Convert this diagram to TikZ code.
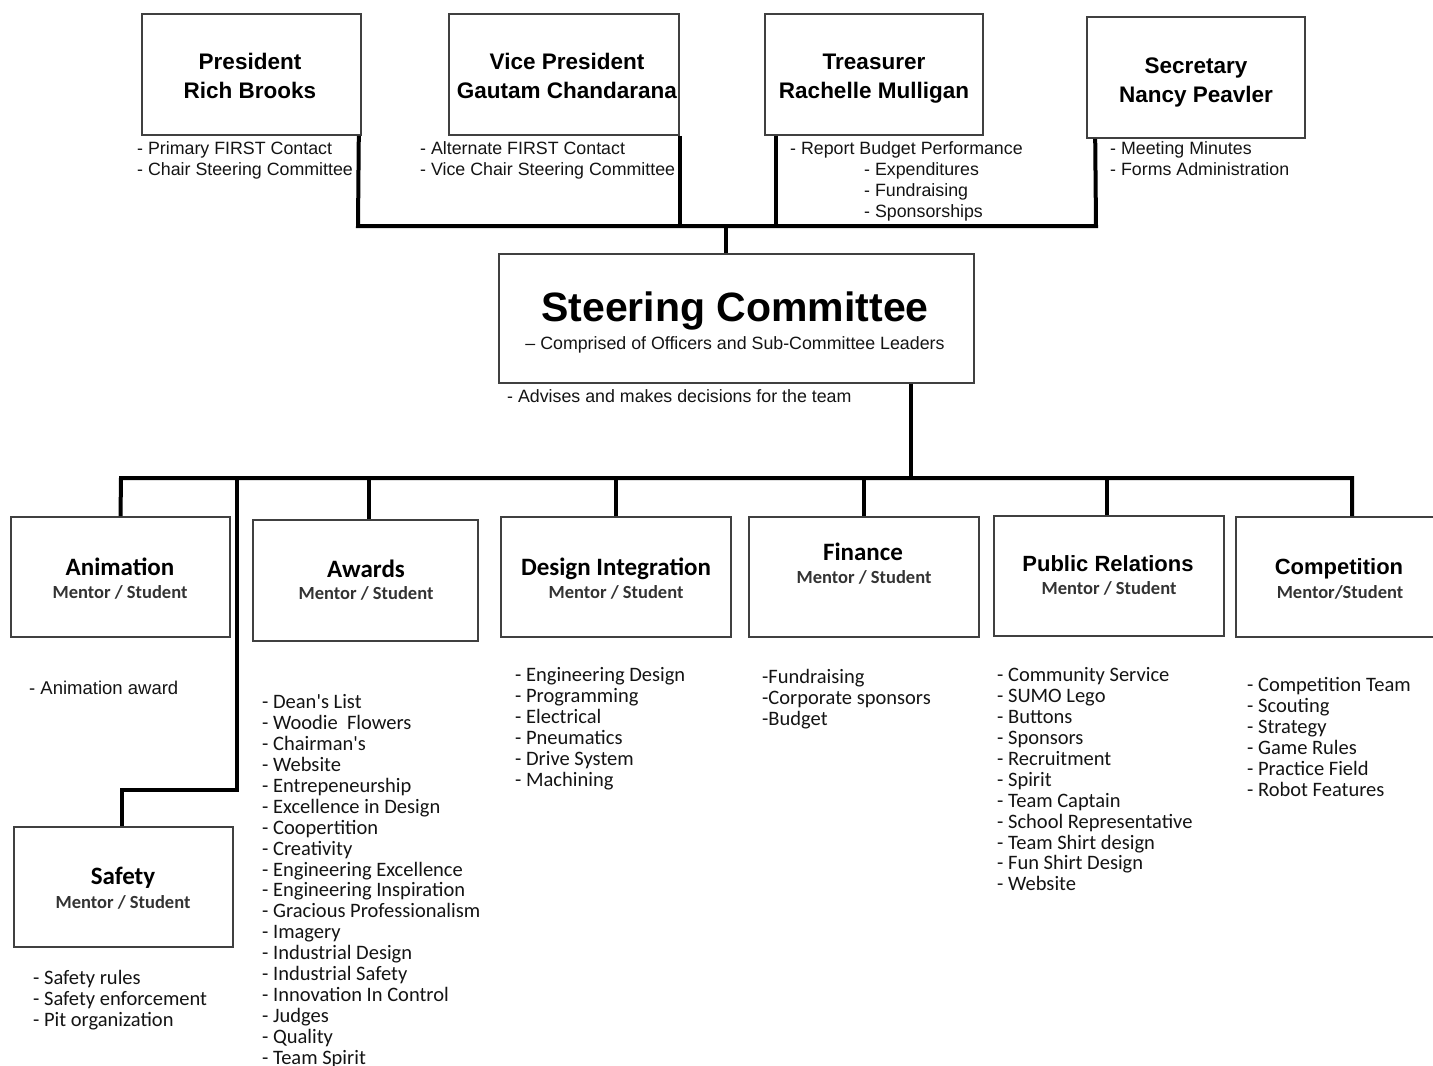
\documentclass[tikz,border=0pt]{standalone}
\usepackage{fontspec}
\setmainfont{Liberation Sans}
\newfontfamily\calib{Carlito}
\begin{document}
\begin{tikzpicture}[x=1pt,y=-1pt,
  box/.style={draw=black!75, line width=1.6pt, fill=white, inner sep=0pt},
  conn/.style={line width=4pt, black},
  topttl/.style={font=\bfseries\fontsize{22.5}{29}\selectfont, align=center, inner sep=0pt},
  scttl/.style={font=\bfseries\fontsize{41}{46}\selectfont, inner sep=0pt},
  lowttl/.style={font=\calib\bfseries\fontsize{25}{28}\selectfont, inner sep=0pt},
  arttl/.style={font=\bfseries\fontsize{22}{26}\selectfont, inner sep=0pt},
  ms/.style={font=\calib\bfseries\fontsize{18.5}{22}\selectfont, text=black!80, inner sep=0pt},
  tlist/.style={font=\fontsize{17.8}{21}\selectfont, text=black!92, align=left, anchor=north west, inner sep=0pt},
  clist/.style={font=\calib\fontsize{20.5}{20.9}\selectfont, text=black!92, align=left, anchor=north west, inner sep=0pt}
]
\useasboundingbox (0,0) rectangle (1433,1066);
\fill[white] (0,0) rectangle (1433,1066);

% ---------- officers ----------
\node[box, minimum width=219, minimum height=121] (pres) at (251.5,74.5) {};
\node[box, minimum width=230, minimum height=121] (vp) at (564,74.5) {};
\node[box, minimum width=218, minimum height=121] (tre) at (874,74.5) {};
\node[box, minimum width=218, minimum height=121] (sec) at (1196,77.5) {};

\node[topttl] (presT) at (250,75.5) {President\\Rich Brooks};
\node[topttl] (vpT) at (567,75.5) {Vice President\\Gautam Chandarana};
\node[topttl] (treT) at (874,78.5) {Treasurer\\Rachelle Mulligan};
\node[topttl] (secT) at (1196,82.5) {Secretary\\Nancy Peavler};

\node[tlist] (presL) at (137,141.5) {- Primary FIRST Contact\\- Chair Steering Committee};
\node[tlist] (vpL) at (420,141.5) {- Alternate FIRST Contact\\- Vice Chair Steering Committee};
\node[tlist] (treL1) at (790,141.5) {- Report Budget Performance};
\node[tlist] (treL2) at (864,162.5) {- Expenditures\\- Fundraising\\- Sponsorships};
\node[tlist] (secL) at (1110,141.5) {- Meeting Minutes\\- Forms Administration};

% ---------- steering committee ----------
\node[box, minimum width=475, minimum height=129] (sc) at (736.5,318.5) {};
\node[scttl] (scT) at (735,311) {Steering Committee};
\node[font=\fontsize{17.8}{21}\selectfont, text=black!92, inner sep=0pt] (scS) at (735,345) {– Comprised of Officers and Sub-Committee Leaders};
\node[tlist] (scL) at (507,389.5) {- Advises and makes decisions for the team};

% ---------- upper connectors ----------
\coordinate (busL) at (358,226);
\coordinate (busR) at (1096,226);
\draw[conn] ([xshift=-3pt]pres.south east) -- (busL) -- (busR) -- ([xshift=9pt]sec.south west);
\draw[conn] (vp.south east) -- (vp.south east |- busL);
\draw[conn] ([xshift=12pt]tre.south west) -- ([xshift=12pt]tre.south west |- busL);
\draw[conn] ([xshift=-10.5pt]sc.north |- busL) -- ([xshift=-10.5pt]sc.north);

% ---------- sub-committees ----------
\node[box, minimum width=219, minimum height=120] (anim) at (120.5,577) {};
\node[box, minimum width=225, minimum height=121] (awd) at (365.5,580.5) {};
\node[box, minimum width=230, minimum height=120] (dsg) at (616,577) {};
\node[box, minimum width=230, minimum height=120] (fin) at (864,577) {};
\node[box, minimum width=230, minimum height=120] (pr) at (1109,576) {};
\node[box, minimum width=200, minimum height=120] (comp) at (1336,577) {};
\node[box, minimum width=219, minimum height=120] (saf) at (123.5,887) {};

\node[lowttl] (animT) at (120,567) {Animation};
\node[ms] (animS) at (120,592) {Mentor / Student};
\node[lowttl] (awdT) at (366,569) {Awards};
\node[ms] (awdS) at (366,593) {Mentor / Student};
\node[lowttl] (dsgT) at (616,569) {Design Integration};
\node[ms] (dsgS) at (616,592) {Mentor / Student};
\node[lowttl] (finT) at (863,552) {Finance};
\node[ms] (finS) at (864,577) {Mentor / Student};
\node[arttl] (prT) at (1108,564) {Public Relations};
\node[ms] (prS) at (1109,588) {Mentor / Student};
\node[arttl] (compT) at (1339,569) {Competition};
\node[ms] (compS) at (1340,592) {Mentor/Student};
\node[lowttl] (safT) at (123,878) {Safety};
\node[ms] (safS) at (123,902) {Mentor / Student};

% ---------- lower connectors ----------
\coordinate (bus2L) at (121,478);
\coordinate (bus2R) at (1352,478);
\coordinate (sj) at (237,478);
\coordinate (sk) at (237,790);
\draw[conn] ([xshift=174.5pt]sc.south) -- ([xshift=174.5pt]sc.south |- bus2L);
\draw[conn] (anim.north) -- (bus2L) -- (bus2R) -- (bus2R |- comp.north);
\draw[conn] ([xshift=3.5pt]awd.north) -- ([xshift=3.5pt]awd.north |- bus2L);
\draw[conn] (dsg.north) -- (dsg.north |- bus2L);
\draw[conn] (fin.north) -- (fin.north |- bus2L);
\draw[conn] ([xshift=-2pt]pr.north) -- ([xshift=-2pt]pr.north |- bus2L);
\draw[conn] (sj) -- (sk) -| ([xshift=-1.5pt]saf.north);

% ---------- lists ----------
\node[tlist, font=\fontsize{18.5}{21}\selectfont] (animL) at (29,681) {- Animation award};
\node[clist] (awdL) at (262,694.5) {- Dean's List\\- Woodie~ Flowers\\- Chairman's\\- Website\\- Entrepeneurship\\- Excellence in Design\\- Coopertition\\- Creativity\\- Engineering Excellence\\- Engineering Inspiration\\- Gracious Professionalism\\- Imagery\\- Industrial Design\\- Industrial Safety\\- Innovation In Control\\- Judges\\- Quality\\- Team Spirit};
\node[clist] (dsgL) at (515,667.5) {- Engineering Design\\- Programming\\- Electrical\\- Pneumatics\\- Drive System\\- Machining};
\node[clist] (finL) at (762,669.5) {-Fundraising\\-Corporate sponsors\\-Budget};
\node[clist] (prL) at (997,667.5) {- Community Service\\- SUMO Lego\\- Buttons\\- Sponsors\\- Recruitment\\- Spirit\\- Team Captain\\- School Representative\\- Team Shirt design\\- Fun Shirt Design\\- Website};
\node[clist] (compL) at (1247,677.5) {- Competition Team\\- Scouting\\- Strategy\\- Game Rules\\- Practice Field\\- Robot Features};
\node[clist] (safL) at (33,970.5) {- Safety rules\\- Safety enforcement\\- Pit organization};
\end{tikzpicture}
\end{document}
